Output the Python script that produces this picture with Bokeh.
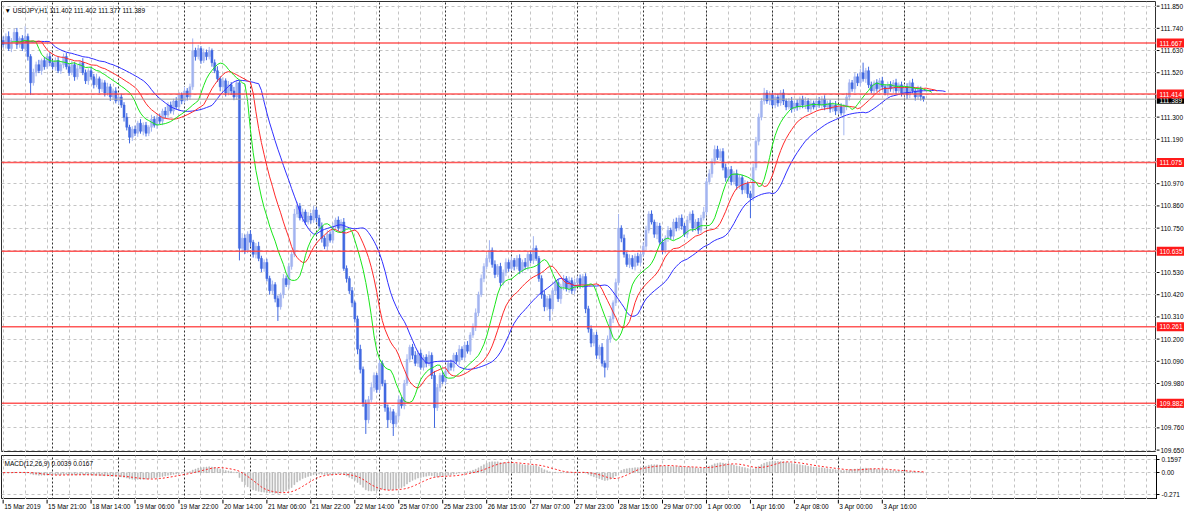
import numpy as np
from bokeh.plotting import figure
from bokeh.layouts import column, row
from bokeh.models import Range1d, FixedTicker, Grid, Span, Label
from bokeh.core.properties import value
from bokeh.embed import file_html
from bokeh.resources import INLINE

# ---------------- data (USDJPY H1) ----------------
first_open = 111.68
close = [
    111.66,111.70,111.64,111.68,111.72,111.66,111.69,111.64,111.70,111.60,111.47,111.52,111.56,111.53,111.58,111.55,111.60,111.57,
    111.55,111.58,111.53,111.56,111.60,111.55,111.52,111.56,111.50,111.54,111.57,111.52,111.48,111.53,111.50,111.46,111.49,111.44,111.47,111.42,111.45,111.40,111.43,111.38,111.40,
    111.36,111.30,111.25,111.20,111.24,111.22,111.27,111.23,111.26,111.22,111.25,111.29,111.26,111.30,111.28,111.33,111.31,111.36,111.33,111.38,111.35,111.41,111.38,111.43,
    111.40,111.45,111.63,111.60,111.64,111.58,111.62,111.60,111.63,111.57,111.53,111.49,111.45,111.48,111.42,111.46,111.43,111.40,111.47,110.65,110.70,110.64,110.72,110.68,
    110.62,110.66,110.60,110.55,110.58,110.50,110.44,110.47,110.40,110.36,110.42,110.50,110.47,110.56,110.62,110.82,110.86,110.80,110.83,110.78,110.81,110.79,110.84,
    110.80,110.76,110.70,110.66,110.72,110.69,110.76,110.79,110.75,110.78,110.55,110.50,110.44,110.38,110.30,110.15,110.05,109.88,109.80,109.90,109.96,110.02,109.95,
    110.08,109.98,109.86,109.80,109.84,109.78,109.82,109.90,109.87,109.98,110.10,110.16,110.12,110.08,110.13,110.06,110.11,110.08,110.12,110.02,109.86,109.96,110.02,109.99,
    110.04,110.08,110.06,110.12,110.09,110.15,110.11,110.17,110.14,110.22,110.26,110.33,110.42,110.50,110.56,110.60,110.64,110.57,110.52,110.56,110.48,110.53,110.58,110.55,
    110.59,110.56,110.60,110.54,110.58,110.56,110.62,110.59,110.65,110.60,110.50,110.42,110.36,110.40,110.35,110.44,110.48,110.40,110.46,110.50,110.45,110.49,110.44,110.48,
    110.50,110.47,110.51,110.35,110.25,110.18,110.22,110.12,110.16,110.08,110.06,110.20,110.30,110.38,110.48,110.75,110.70,110.62,110.57,110.60,110.56,110.61,110.58,110.62,
    110.66,110.74,110.82,110.78,110.72,110.76,110.68,110.64,110.70,110.74,110.71,110.78,110.75,110.80,110.76,110.72,110.79,110.82,110.75,110.78,110.74,110.80,110.83,
    110.98,111.02,111.08,111.14,111.10,111.13,111.05,111.00,111.04,110.98,111.02,110.96,111.00,110.94,110.97,110.92,110.90,111.05,111.18,111.30,111.38,111.42,111.38,111.41,
    111.36,111.40,111.37,111.42,111.38,111.35,111.38,111.34,111.37,111.35,111.39,111.36,111.38,111.34,111.37,111.35,111.38,111.36,111.39,111.35,111.37,111.34,111.36,111.33,
    111.35,111.32,111.35,111.40,111.47,111.44,111.50,111.47,111.52,111.49,111.53,111.46,111.43,111.47,111.44,111.48,111.45,111.42,111.46,111.44,111.47,111.43,111.46,111.42,
    111.45,111.41,111.47,111.43,111.40,111.44,111.402,111.389,
]
# upper / lower shadows in thousandths of a yen
wick_up = [
    20,15,25,12,18,22,10,16,50,14,12,20,15,24,10,18,14,22,12,16,20,11,15,18,
    14,20,12,18,10,22,16,12,19,14,25,11,17,13,20,15,12,18,10,16,14,20,12,15,
    18,12,20,14,16,10,22,15,13,18,12,20,14,17,11,19,15,12,20,14,16,60,14,18,
    12,20,15,18,10,16,22,13,17,12,19,14,20,15,11,25,18,14,20,12,16,22,13,15,
    18,14,20,12,16,10,22,15,18,13,25,20,14,17,12,19,15,21,13,16,18,12,20,14,
    16,12,18,14,20,15,12,18,10,16,22,14,20,18,25,15,12,20,14,18,16,22,13,15,
    20,14,18,25,12,16,20,14,18,12,15,20,14,22,18,12,16,20,14,18,12,15,20,14,
    16,20,14,18,22,15,20,16,18,50,14,20,12,18,15,20,14,18,12,16,20,14,22,15,
    18,60,14,12,16,20,14,18,12,20,16,14,18,12,20,15,18,14,20,12,16,15,18,14,
    16,12,20,14,18,15,12,20,70,14,18,12,20,16,14,18,15,20,22,14,18,12,20,16,
    18,14,20,12,16,22,14,18,15,20,12,18,14,20,16,25,18,22,15,20,18,14,16,20,
    14,18,12,20,16,14,18,12,15,20,22,18,15,25,14,18,12,20,16,14,18,12,15,20,
    14,18,12,16,20,14,18,12,15,20,14,18,12,16,14,20,12,18,15,20,18,14,20,16,
    18,50,14,20,16,12,18,14,20,12,16,18,14,20,12,16,14,18,12,20,14,16,12,0,
]
wick_dn = [
    15,20,12,18,14,22,16,12,18,20,60,14,18,12,20,15,12,18,14,20,12,16,18,14,
    16,12,20,14,18,12,16,20,14,18,12,22,15,18,14,20,16,12,18,14,22,16,30,18,
    14,18,12,20,16,14,22,12,18,15,20,14,16,12,18,14,20,16,12,18,14,15,20,14,
    16,12,18,14,20,12,16,22,14,18,12,20,16,14,60,20,18,14,22,16,20,14,18,16,
    14,20,16,18,70,14,18,12,20,16,14,18,12,20,15,12,18,14,20,16,22,14,18,12,
    16,20,14,18,12,20,16,22,18,25,20,16,70,18,14,20,16,18,14,20,40,16,60,18,
    20,14,18,12,16,20,14,18,12,16,20,14,18,100,16,20,12,18,14,16,20,12,18,14,
    16,12,18,14,20,16,12,18,14,20,16,18,12,20,14,18,16,12,20,14,18,12,16,20,
    14,18,12,16,20,22,18,60,14,20,16,25,18,14,20,16,18,14,20,16,22,18,20,16,
    18,20,16,50,14,18,20,16,14,20,16,12,18,14,20,16,18,14,20,16,12,18,25,14,
    20,16,18,14,20,16,12,18,14,20,16,18,14,20,16,12,18,14,20,16,12,18,14,20,
    16,18,14,20,16,22,18,20,100,16,14,20,16,18,14,20,12,16,18,14,20,16,12,18,
    14,18,12,16,20,14,18,12,16,14,20,16,12,18,14,20,16,12,110,16,18,14,20,16,
    18,14,20,16,12,18,14,20,16,12,18,14,20,16,12,18,14,20,16,12,18,14,20,12,
]

x_tick_idx = [0, 16, 32, 48, 64, 80, 96, 112, 128, 144, 160, 176, 192, 208, 224, 240, 256, 272, 288, 304, 320]
x_tick_labels = ["15 Mar 2019", "15 Mar 21:00", "18 Mar 14:00", "19 Mar 06:00", "19 Mar 22:00",
                 "20 Mar 14:00", "21 Mar 06:00", "21 Mar 22:00", "22 Mar 14:00", "25 Mar 07:00",
                 "25 Mar 23:00", "26 Mar 15:00", "27 Mar 07:00", "27 Mar 23:00", "28 Mar 15:00",
                 "29 Mar 07:00", "1 Apr 00:00", "1 Apr 16:00", "2 Apr 08:00", "3 Apr 00:00", "3 Apr 16:00"]
day_starts = [18, 42, 66, 90, 114, 137, 161, 185, 209, 233, 256, 280, 304, 328]
price_ticks = [109.650, 109.760, 109.870, 109.980, 110.090, 110.200, 110.310, 110.420, 110.530,
               110.640, 110.750, 110.860, 110.970, 111.080, 111.190, 111.300, 111.410, 111.520,
               111.630, 111.740, 111.850]
levels = [111.667, 111.414, 111.075, 110.635, 110.261, 109.882]
bid = 111.389
macd_ticks = [0.1597, 0.0, -0.271]
macd_tick_labels = ["0.1597", "0.00", "-0.271"]

# ---------------- derived series ----------------
n = min(len(close), len(wick_up), len(wick_dn))
close = np.array(close[:n])
opn = np.concatenate([[first_open], close[:-1]])
high = np.maximum(opn, close) + np.array(wick_up[:n]) / 1000.0
low = np.minimum(opn, close) - np.array(wick_dn[:n]) / 1000.0
idx = np.arange(n)
bull = close >= opn

def smma(vals, period):
    out = np.empty(len(vals)); s = vals[0]
    for i, v in enumerate(vals):
        s = (s * (period - 1) + v) / period
        out[i] = s
    return out

def ema(vals, period):
    a = 2.0 / (period + 1); out = np.empty(len(vals)); s = vals[0]
    for i, v in enumerate(vals):
        s = a * v + (1 - a) * s
        out[i] = s
    return out

median = (high + low) / 2
jaw = smma(median, 13); teeth = smma(median, 8); lips = smma(median, 5)
macd = ema(close, 12) - ema(close, 26)
signal = np.array([macd[max(0, i - 8):i + 1].mean() for i in range(n)])

# ---------------- styling ----------------
FONT = "Liberation Sans"
FS = "6.5px"
BULL = "#a3b4f0"
BEAR = "#4169e1"
GRID = "#c4c4c4"
FW = 1155          # chart frame width
FH = 451           # main frame height
AXW = 28           # price-scale column width
Y0, Y1 = 109.638, 111.873
xr = Range1d(-0.6, 419.8)

def bare(fig):
    fig.xgrid.visible = False
    fig.ygrid.visible = False

# ---------------- main price panel ----------------
p = figure(frame_width=FW, frame_height=FH, x_range=xr, y_range=Range1d(Y0, Y1),
           x_axis_location=None, y_axis_location=None, output_backend="svg",
           toolbar_location=None, min_border_left=1, min_border_right=0,
           min_border_top=1, min_border_bottom=0)
bare(p)
p.outline_line_color = "#303030"

p.add_layout(Grid(dimension=0, ticker=FixedTicker(ticks=list(range(0, 420, 8))),
                  grid_line_color=GRID, grid_line_dash="3 3", grid_line_width=1))
p.add_layout(Grid(dimension=1, ticker=FixedTicker(ticks=price_ticks),
                  grid_line_color=GRID, grid_line_dash="3 3", grid_line_width=1))
p.add_layout(Grid(dimension=0, ticker=FixedTicker(ticks=day_starts),
                  grid_line_color="#303030", grid_line_dash="2 2", grid_line_width=1))

for mask, col in ((bull, BULL), (~bull, BEAR)):
    p.segment(idx[mask], high[mask], idx[mask], low[mask], line_color=col, line_width=1)
    p.vbar(x=idx[mask], width=0.75, top=np.maximum(opn, close)[mask],
           bottom=np.minimum(opn, close)[mask], fill_color=col, line_color=col, line_width=0.5)

# alligator (jaw 13/8, teeth 8/5, lips 5/3 on median price)
p.line(idx + 8, jaw, line_color="#2f2fff", line_width=1)
p.line(idx + 5, teeth, line_color="#ff2a2a", line_width=1)
p.line(idx + 3, lips, line_color="#19e619", line_width=1)

for lv in levels:
    p.add_layout(Span(location=lv, dimension="width", line_color="#ff3b3b", line_width=1.5, line_alpha=0.85))
p.add_layout(Span(location=bid, dimension="width", line_color="#a0a0a0", line_width=1))

p.add_layout(Label(x=3, y=FH - 9, x_units="screen", y_units="screen",
                   text="\u25bc USDJPY,H1  111.402 111.402 111.377 111.389",
                   text_font=FONT, text_font_size=FS, text_color="black", text_baseline="middle"))

# ---------------- price scale column ----------------
ext = 3
k = (Y1 - Y0) / FH
pa = figure(frame_width=AXW, frame_height=FH + ext, x_range=Range1d(0, AXW),
            y_range=Range1d(Y0 - ext * k, Y1), x_axis_location=None, y_axis_location=None,
            output_backend="svg", toolbar_location=None, min_border_left=0, min_border_right=0,
            min_border_top=1, min_border_bottom=0)
bare(pa)
pa.outline_line_color = None
pa.segment(x0=0, y0=price_ticks, x1=3, y1=price_ticks, line_color="black", line_width=1)
pa.text(x=4, y=price_ticks, text=[f"{t:.3f}" for t in price_ticks], text_font=value(FONT),
        text_font_size=value(FS), text_color="black", text_baseline="middle")
pa.rect(x=AXW / 2, y=[bid], width=AXW, height=9, height_units="screen",
        fill_color="black", line_color=None)
pa.text(x=3, y=[bid], text=[f"{bid:.3f}"], text_font=value(FONT), text_font_size=value(FS),
        text_color="white", text_baseline="middle", y_offset=1)
pa.rect(x=AXW / 2, y=levels, width=AXW, height=9, height_units="screen",
        fill_color="#ff1a1a", line_color=None)
pa.text(x=3, y=levels, text=[f"{lv:.3f}" for lv in levels], text_font=value(FONT),
        text_font_size=value(FS), text_color="white", text_baseline="middle")

# ---------------- MACD panel ----------------
m = figure(frame_width=FW, frame_height=44, x_range=xr, y_range=Range1d(-0.326, 0.21),
           x_axis_location=None, y_axis_location="right", output_backend="svg",
           toolbar_location=None, min_border_left=1, min_border_right=0,
           min_border_top=0, min_border_bottom=0)
bare(m)
m.outline_line_color = "#202020"
ya = m.yaxis[0]
ya.ticker = FixedTicker(ticks=macd_ticks)
ya.major_label_overrides = dict(zip(macd_ticks, macd_tick_labels))
ya.major_label_text_font = FONT
ya.major_label_text_font_size = FS
ya.major_label_text_color = "black"
ya.major_tick_out = 3
ya.major_tick_in = 0
ya.minor_tick_line_color = None
ya.axis_line_color = "black"
ya.major_label_standoff = 2

m.add_layout(Grid(dimension=0, ticker=FixedTicker(ticks=list(range(0, 420, 8))),
                  grid_line_color=GRID, grid_line_dash="3 3", grid_line_width=1))
m.add_layout(Grid(dimension=1, ticker=FixedTicker(ticks=macd_ticks),
                  grid_line_color=GRID, grid_line_dash="3 3", grid_line_width=1))
m.add_layout(Grid(dimension=0, ticker=FixedTicker(ticks=day_starts),
                  grid_line_color="#303030", grid_line_dash="2 2", grid_line_width=1))

m.vbar(x=idx, width=0.35, top=np.maximum(macd, 0), bottom=np.minimum(macd, 0),
       fill_color="#b8b8b8", line_color="#b8b8b8", line_width=0.5)
m.line(idx, signal, line_color="#ff2020", line_width=1, line_dash="2 2")

m.add_layout(Label(x=3, y=36, x_units="screen", y_units="screen",
                   text="MACD(12,26,9) 0.0039 0.0167",
                   text_font=FONT, text_font_size=FS, text_color="black", text_baseline="middle"))

# ---------------- time scale strip ----------------
SH = 16
ts = figure(frame_width=FW, frame_height=SH, x_range=xr, y_range=Range1d(0, SH),
            x_axis_location=None, y_axis_location=None, output_backend="svg",
            toolbar_location=None, min_border_left=1, min_border_right=0,
            min_border_top=0, min_border_bottom=0)
bare(ts)
ts.outline_line_color = None
ts.segment(x0=x_tick_idx, y0=[SH] * len(x_tick_idx), x1=x_tick_idx, y1=[SH - 4] * len(x_tick_idx),
           line_color="black", line_width=1)
ts.text(x=x_tick_idx, y=[SH - 3] * len(x_tick_idx), text=x_tick_labels, text_font=value(FONT),
        text_font_size=value(FS), text_color="black", text_baseline="top", text_align="left",
        x_offset=1)

layout = column(row(p, pa, spacing=0), m, ts, spacing=0)
open("out.html", "w").write(file_html(layout, INLINE))
